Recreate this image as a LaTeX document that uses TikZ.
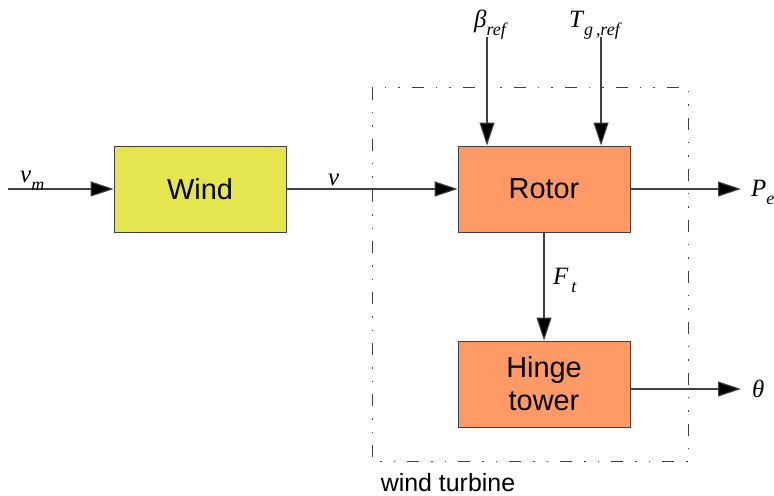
\documentclass[tikz,border=0pt]{standalone}
\usepackage{fontspec}
\setmainfont{Liberation Sans}
\newfontfamily\serif{Liberation Serif}
\usetikzlibrary{arrows.meta}
\definecolor{windfill}{HTML}{E5E64F}
\definecolor{rotorfill}{HTML}{FF9966}
\newcommand\mylab[3][\,]{{\serif\itshape #2\raisebox{-8bp}{\fontsize{18}{18}\selectfont#1#3}}}
\begin{document}
\begin{tikzpicture}[x=1bp,y=-1bp,
  blk/.style={draw=black!75,line width=0.9bp,minimum width=172bp,minimum height=86bp,inner sep=0pt,
    font=\fontsize{29}{33}\selectfont,align=center},
  sig/.style={draw=black!75,line width=1.1bp,-{Triangle[length=23bp,width=15bp,fill=black]}},
  lbl/.style={inner sep=0pt,anchor=base west,font=\fontsize{25}{25}\selectfont},
  frame/.style={draw=black!75,line width=1bp,dash pattern=on 12bp off 12bp on 1.5bp off 12bp on 1.5bp off 12bp}]
\useasboundingbox (0,0) rectangle (774,496);
\draw[frame] (372,88) rectangle (688,461);
\node[blk,fill=windfill] (wind) at (200,189) {Wind};
\node[blk,fill=rotorfill] (rotor) at (544,189) {Rotor};
\node[blk,fill=rotorfill] (hinge) at (544,384) {Hinge\\tower};
\coordinate (vin) at (8,189);
\coordinate (beta) at (487,37);
\coordinate (tg) at (601,37);
\coordinate (pe) at (741,189);
\coordinate (th) at (741,389);
\draw[sig] (vin) -- (wind.west);
\draw[sig] (wind.east) -- (rotor.west);
\draw[sig] (beta) -- (beta |- rotor.north);
\draw[sig] (tg) -- (tg |- rotor.north);
\draw[sig] (rotor.east) -- (pe);
\draw[sig] (rotor.south) -- (hinge.north);
\draw[sig] (hinge.east |- th) -- (th);
\node[lbl] (lvm) at (20,183) {\mylab[]{v}{m}};
\node[lbl] (lv) at (328,186) {\mylab{v}{}};
\node[lbl] (lbeta) at (474,28) {\mylab[]{β}{ref}};
\node[lbl] (ltg) at (569,28) {\mylab[\kern1bp]{T}{g\,,ref}};
\node[lbl] (lpe) at (751,197) {\mylab[]{P}{e}};
\node[lbl] (lft) at (553,285) {\mylab{F}{t}};
\node[lbl] (lth) at (752,397) {\mylab{θ}{}};
\node[font=\fontsize{25}{25}\selectfont,inner sep=0pt] (wt) at (448,483) {wind turbine};
\end{tikzpicture}
\end{document}
